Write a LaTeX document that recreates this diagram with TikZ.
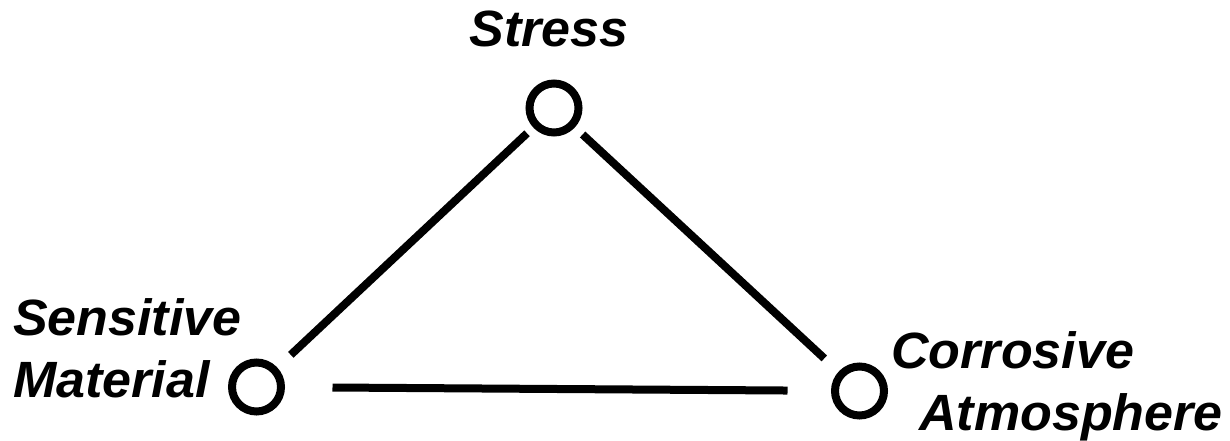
\documentclass[tikz,border=0pt]{standalone}
\usepackage{fontspec}
\setmainfont{Liberation Sans}[FakeStretch=1.02]
\begin{document}
\begin{tikzpicture}[x=1pt,y=-1pt,
  ring/.style={circle,draw,line width=8pt,minimum size=49pt,inner sep=0pt,outer sep=0pt},
  link/.style={line width=8pt},
  lbl/.style={font=\fontsize{51}{58}\selectfont\bfseries\itshape,inner sep=0pt}]
\useasboundingbox (0,0) rectangle (1230,441);
\node[ring] (top) at (554,108) {};
\node[ring] (left) at (256.5,387) {};
\node[ring] (right) at (859.5,391) {};
\node[lbl,anchor=base] (tstress) at (549,47) {Stress};
\node[lbl,anchor=base west] (tsens) at (13,335) {Sensitive};
\node[lbl,anchor=base west] (tmat) at (13,397) {Material};
\node[lbl,anchor=base west] (tcorr) at (891,368) {Corrosive};
\node[lbl,anchor=base west] (tatm) at (919,430) {Atmosphere};
\draw[link,shorten <=37pt,shorten >=47pt] (top.center) -- (left.center);
\draw[link,shorten <=39pt,shorten >=48pt] (top.center) -- (right.center);
\draw[link,shorten <=76pt,shorten >=72pt] (left.center) -- (right.center);
\end{tikzpicture}
\end{document}
